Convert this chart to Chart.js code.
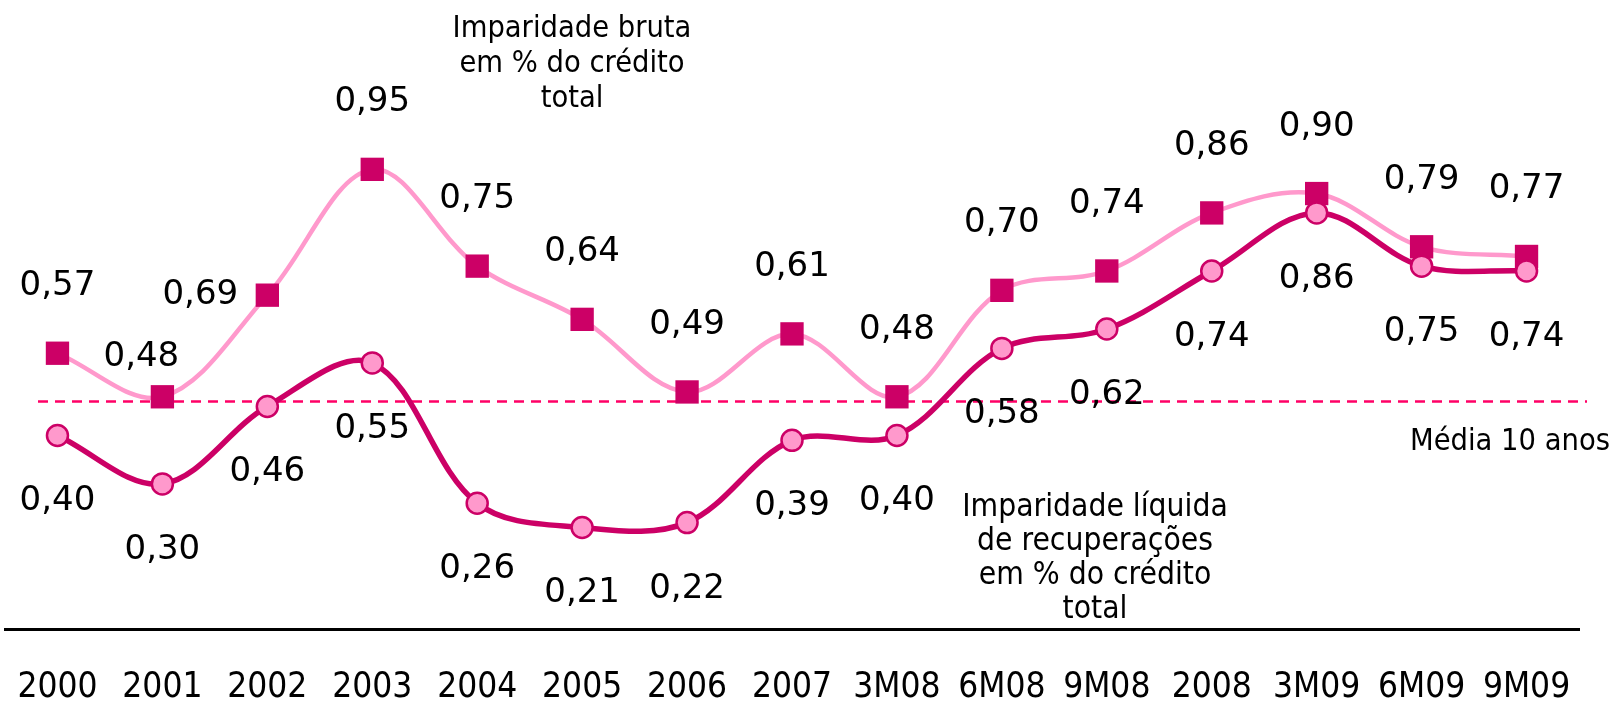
<!DOCTYPE html>
<html>
<head>
<meta charset="utf-8">
<script src="https://cdn.jsdelivr.net/npm/chart.js@4/dist/chart.umd.min.js"></script>
<style>
  html, body { margin: 0; padding: 0; background: #fff; }
  #caixa { width: 1619px; height: 704px; position: relative; }
</style>
</head>
<body>
<div id="caixa"><canvas id="grafico"></canvas></div>
<script>
// dados
const periodos = ['2000', '2001', '2002', '2003', '2004', '2005', '2006', '2007', '3M08', '6M08', '9M08', '2008', '3M09', '6M09', '9M09'];
const imparidadeBruta = [0.57, 0.48, 0.69, 0.95, 0.75, 0.64, 0.49, 0.61, 0.48, 0.70, 0.74, 0.86, 0.90, 0.79, 0.77];
const imparidadeLiquida = [0.40, 0.30, 0.46, 0.55, 0.26, 0.21, 0.22, 0.39, 0.40, 0.58, 0.62, 0.74, 0.86, 0.75, 0.74];
const media10Anos = 0.47;

const escuro = '#cc0066';
const claro = '#ff99cc';

function formatar(v) {
  return v.toFixed(2).replace('.', ',');
}

// rotulos dos valores, desenhados junto a cada ponto
const rotulosPlugin = {
  id: 'rotulos',
  afterDatasetsDraw(chart) {
    const ctx = chart.ctx;
    ctx.save();
    ctx.fillStyle = '#000';
    ctx.font = '34px "DejaVu Sans"';
    ctx.textAlign = 'center';
    ctx.textBaseline = 'alphabetic';
    chart.data.datasets.forEach((ds, i) => {
      const meta = chart.getDatasetMeta(i);
      meta.data.forEach((pt, j) => {
        let dx = 0;
        let dy = ds.desvio;
        if (ds.ajustes && ds.ajustes[j]) {
          dx = ds.ajustes[j][0];
          dy = ds.ajustes[j][1];
        }
        ctx.fillText(formatar(ds.data[j]), pt.x + dx, pt.y + dy + 12);
      });
    });
    ctx.restore();
  }
};

// linha da media e textos soltos
const notasPlugin = {
  id: 'notas',
  beforeDatasetsDraw(chart) {
    const ctx = chart.ctx;
    const y = chart.scales.y.getPixelForValue(media10Anos);
    ctx.save();
    ctx.strokeStyle = '#ff0066';
    ctx.lineWidth = 2.5;
    ctx.setLineDash([10, 7]);
    ctx.beginPath();
    ctx.moveTo(38, y);
    ctx.lineTo(1587, y);
    ctx.stroke();
    ctx.restore();
  },
  afterDraw(chart) {
    const ctx = chart.ctx;
    ctx.save();
    ctx.fillStyle = '#000';
    ctx.textAlign = 'center';
    ctx.font = '30.5px "DejaVu Sans Condensed"';
    ['Imparidade bruta', 'em % do crédito', 'total'].forEach((t, i) => {
      ctx.fillText(t, 572, 37 + i * 35);
    });
    ctx.font = '31.5px "DejaVu Sans Condensed"';
    ['Imparidade líquida', 'de recuperações', 'em % do crédito', 'total'].forEach((t, i) => {
      ctx.fillText(t, 1095, 516 + i * 34);
    });
    ctx.textAlign = 'right';
    ctx.font = '30.5px "DejaVu Sans Condensed"';
    ctx.fillText('Média 10 anos', 1610, 450);
    ctx.restore();
  }
};

const config = {
  type: 'line',
  data: {
    labels: periodos,
    datasets: [
      {
        label: 'Imparidade líquida de recuperações em % do crédito total',
        data: imparidadeLiquida,
        borderColor: escuro,
        borderWidth: 5.5,
        backgroundColor: claro,
        pointStyle: 'circle',
        pointRadius: 10.5,
        pointBorderWidth: 2.5,
        pointBorderColor: escuro,
        pointBackgroundColor: claro,
        tension: 0.35,
        clip: false,
        desvio: 63
      },
      {
        label: 'Imparidade bruta em % do crédito total',
        data: imparidadeBruta,
        borderColor: claro,
        borderWidth: 4.5,
        backgroundColor: escuro,
        pointStyle: 'rect',
        pointRadius: 16.5,
        pointBorderWidth: 0,
        pointBorderColor: escuro,
        pointBackgroundColor: escuro,
        tension: 0.35,
        clip: false,
        desvio: -70,
        ajustes: { 1: [-21, -43], 2: [-67, -3] }
      }
    ]
  },
  options: {
    responsive: true,
    maintainAspectRatio: false,
    animation: false,
    // o eixo x fica mais alto do que o espaco livre, por isso o fundo negativo
    layout: { autoPadding: false, padding: { left: 5, right: 40, top: 0, bottom: -43 } },
    plugins: {
      legend: { display: false },
      tooltip: { enabled: false }
    },
    scales: {
      x: {
        offset: true,
        grid: { display: false, drawTicks: false },
        border: { display: true, color: '#000', width: 3 },
        ticks: {
          color: '#000',
          padding: 0,
          maxRotation: 0,
          autoSkip: false,
          font: { family: 'DejaVu Sans Condensed', size: 35, lineHeight: 3.37 }
        }
      },
      y: {
        display: false,
        min: 0,
        max: 1.30
      }
    }
  },
  plugins: [notasPlugin, rotulosPlugin]
};

new Chart(document.getElementById('grafico'), config);
</script>
</body>
</html>
